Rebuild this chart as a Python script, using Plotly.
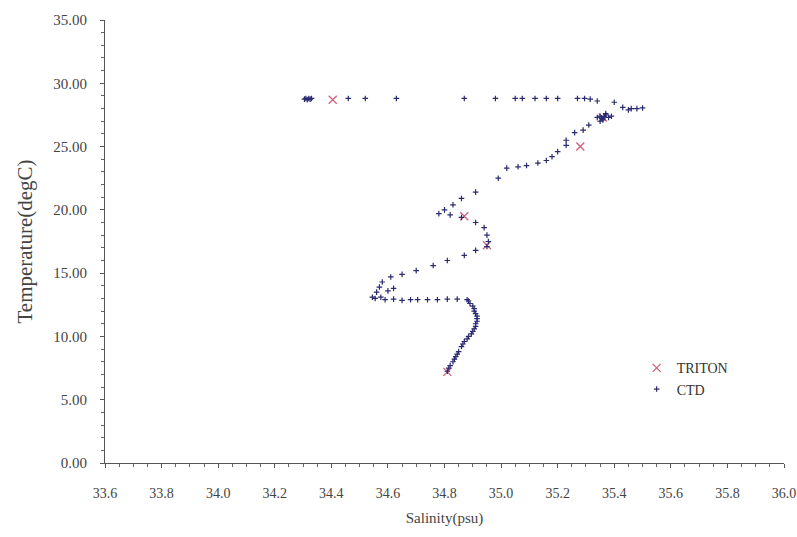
import plotly.graph_objects as go

# CTD profile (salinity psu, temperature degC)
ctd_sal = [34.305, 34.31, 34.315, 34.32, 34.325, 34.33, 34.46, 34.52, 34.63, 34.87, 34.98, 35.05, 35.075, 35.12, 35.16, 35.2, 35.27, 35.295, 35.315, 35.34,
           35.40, 35.43, 35.45, 35.46, 35.48, 35.50,
           35.34, 35.35, 35.36, 35.37, 35.38, 35.36, 35.35, 35.37, 35.39, 35.355, 35.365,
           35.31, 35.29, 35.26, 35.23, 35.23, 35.20, 35.18, 35.16, 35.13, 35.09, 35.06, 35.02, 34.99, 34.91, 34.86, 34.83, 34.80, 34.78,
           34.82, 34.86, 34.91, 34.94, 34.95, 34.955, 34.95,
           34.91, 34.87, 34.81, 34.76, 34.70, 34.65, 34.61, 34.58, 34.57, 34.56, 34.60, 34.62,
           34.545, 34.555, 34.575, 34.59, 34.62, 34.65, 34.68, 34.705, 34.74, 34.775, 34.81, 34.845, 34.88,
           34.885, 34.89, 34.90, 34.905, 34.905, 34.91, 34.915, 34.915, 34.915, 34.91, 34.91, 34.905, 34.90, 34.895, 34.885, 34.88,
           34.87, 34.865, 34.86, 34.85, 34.845, 34.84, 34.835, 34.83, 34.82, 34.815, 34.81]
ctd_temp = [28.75, 28.8, 28.7, 28.8, 28.75, 28.8, 28.8, 28.8, 28.8, 28.8, 28.8, 28.8, 28.8, 28.8, 28.8, 28.8, 28.8, 28.8, 28.75, 28.6,
            28.5, 28.1, 27.9, 28.0, 28.0, 28.05,
            27.3, 27.4, 27.2, 27.5, 27.3, 27.1, 27.0, 27.6, 27.4, 27.25, 27.35,
            26.7, 26.3, 26.1, 25.5, 25.1, 24.6, 24.2, 23.9, 23.7, 23.5, 23.4, 23.3, 22.5, 21.4, 20.9, 20.4, 20.0, 19.7,
            19.6, 19.4, 19.0, 18.6, 18.0, 17.5, 17.1,
            16.8, 16.4, 16.0, 15.6, 15.2, 14.9, 14.7, 14.3, 13.9, 13.5, 13.6, 13.8,
            13.1, 13.0, 13.1, 12.9, 12.95, 12.85, 12.9, 12.9, 12.9, 12.9, 12.95, 12.95, 12.9,
            12.8, 12.6, 12.4, 12.2, 12.0, 11.8, 11.6, 11.4, 11.2, 11.0, 10.8, 10.6, 10.4, 10.2, 10.0, 9.8,
            9.6, 9.4, 9.2, 8.8, 8.6, 8.4, 8.2, 8.0, 7.7, 7.5, 7.25]

# TRITON buoy values
triton_sal = [34.405, 35.36, 35.28, 34.87, 34.95, 34.81]
triton_temp = [28.7, 27.3, 25.0, 19.5, 17.2, 7.2]

x_ticks = [33.6, 33.8, 34.0, 34.2, 34.4, 34.6, 34.8, 35.0, 35.2, 35.4, 35.6, 35.8, 36.0]
y_ticks = [0, 5, 10, 15, 20, 25, 30, 35]

font_family = "Liberation Serif, Times New Roman, serif"

fig = go.Figure()
fig.add_trace(go.Scatter(
    x=triton_sal, y=triton_temp, mode="markers", name="TRITON",
    marker=dict(symbol="x-thin", size=8, line=dict(color="#d0607a", width=1.3), color="#d0607a"),
))
fig.add_trace(go.Scatter(
    x=ctd_sal, y=ctd_temp, mode="markers", name="CTD",
    marker=dict(symbol="cross-thin", size=4, line=dict(color="#2a2a70", width=1.2), color="#2a2a70"),
))

fig.update_layout(
    width=797, height=537,
    margin=dict(l=105, r=13, t=20, b=74),
    paper_bgcolor="white", plot_bgcolor="white",
    font=dict(family=font_family, size=15, color="#444"),
    showlegend=True,
    legend=dict(x=0.783, y=0.25, xanchor="left", yanchor="top",
                bgcolor="rgba(0,0,0,0)", font=dict(size=14, color="#333"),
                itemwidth=30),
    xaxis=dict(range=[33.6, 36.0], tickvals=x_ticks, ticktext=[f"{v:.1f}" for v in x_ticks],
               automargin=False, ticklabeloverflow="allow",
               showgrid=False, zeroline=False, showline=True, linecolor="#555", linewidth=1,
               ticks="outside", ticklen=4, tickcolor="#555", ticklabelstandoff=13,
               tickfont=dict(size=14),
               minor=dict(dtick=0.05, ticks="outside", ticklen=3, tickcolor="#666"),
               title=dict(text="Salinity(psu)", font=dict(size=15, color="#444"), standoff=12)),
    yaxis=dict(range=[0, 35], tickvals=y_ticks, ticktext=[f"{v:.2f}" for v in y_ticks],
               automargin=False, ticklabeloverflow="allow",
               showgrid=False, zeroline=False, showline=True, linecolor="#555", linewidth=1,
               ticks="outside", ticklen=4, tickcolor="#555", ticklabelstandoff=10,
               tickfont=dict(size=15),
               minor=dict(dtick=1, ticks="outside", ticklen=3, tickcolor="#666"),
               title=dict(text="Temperature(degC)", font=dict(size=21, color="#444"), standoff=14)),
)

fig.write_html("out.html", config={"displayModeBar": False},
               post_script="document.body.style.margin='0';document.body.style.overflow='hidden';")
